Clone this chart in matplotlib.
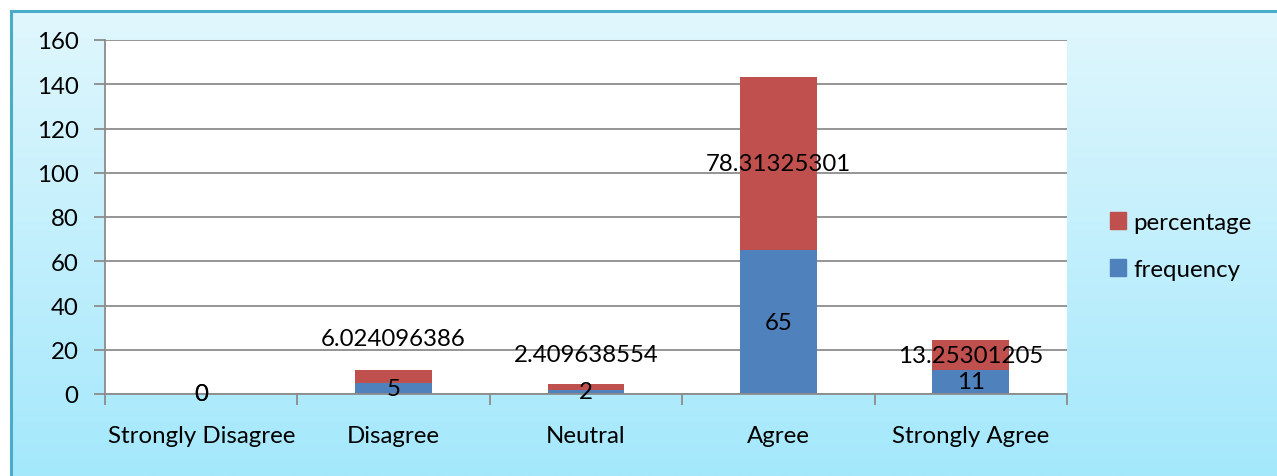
import numpy as np
import matplotlib.pyplot as plt
from matplotlib.patches import Rectangle, Patch

categories = ["Strongly Disagree", "Disagree", "Neutral", "Agree", "Strongly Agree"]
frequency = [0, 5, 2, 65, 11]
percentage = [0, 6.024096386, 2.409638554, 78.31325301, 13.25301205]
freq_labels = ["0", "5", "2", "65", "11"]
pct_labels = ["0", "6.024096386", "2.409638554", "78.31325301", "13.25301205"]

BLUE = "#4f81bd"
RED = "#c0504d"
GRID = "#8c8c8c"
FONT = ["Lato", "DejaVu Sans"]
FS = 17.3

plt.rcParams["font.family"] = FONT

W, H = 1277, 477
fig = plt.figure(figsize=(W / 100, H / 100), dpi=100)

# gradient background for the chart area
bg = fig.add_axes([0, 0, 1, 1], zorder=-10)
top = np.array([0xe2, 0xf7, 0xfd]) / 255
bot = np.array([0xa4, 0xe8, 0xfc]) / 255
t = np.linspace(0, 1, 256)[:, None]
grad = top * (1 - t) + bot * t
bg.imshow(grad[:, None, :], aspect="auto", extent=[0, 1, 0, 1], origin="upper")
bg.set_xlim(0, 1)
bg.set_ylim(0, 1)
bg.axis("off")
# white margin above/left of the frame
bg.add_patch(Rectangle((0, 1 - 11 / H), 1, 11 / H, color="white", zorder=2))
bg.add_patch(Rectangle((0, 0), 10 / W, 1, color="white", zorder=2))
# frame border
bg.plot([11 / W, 11 / W], [0, 1 - 12 / H], color="#4bacc6", lw=2.2, zorder=3)
bg.plot([11 / W, 1], [1 - 12 / H, 1 - 12 / H], color="#4bacc6", lw=2.2, zorder=3)

ax = fig.add_axes([105 / W, 1 - 395 / H, (1067 - 105) / W, (395 - 41) / H])
ax.set_facecolor("white")

x = np.arange(len(categories))
width = 0.40
ax.bar(x, frequency, width, color=BLUE, label="frequency", zorder=3)
ax.bar(x, percentage, width, bottom=frequency, color=RED, label="percentage", zorder=3)

ax.set_xlim(-0.5, len(categories) - 0.5)
ax.set_ylim(0, 160)
ax.set_yticks(np.arange(0, 161, 20))
ax.yaxis.grid(True, color=GRID, lw=1.3, zorder=0)
ax.set_axisbelow(True)

ax.set_xticks(x)
ax.set_xticklabels(categories, fontsize=FS)
ax.tick_params(axis="x", length=0, pad=22)
ax.set_xticks(np.arange(-0.5, len(categories)), minor=True)
ax.tick_params(axis="x", which="minor", length=8, width=1.3, color=GRID, direction="out")
ax.tick_params(axis="y", length=8, width=1.3, color=GRID, labelsize=FS, pad=11)

for side in ["top", "right"]:
    ax.spines[side].set_visible(False)
for side in ["left", "bottom"]:
    ax.spines[side].set_color(GRID)
    ax.spines[side].set_linewidth(1.3)
    ax.spines[side].set_zorder(4)

# value labels: frequency in the middle of the blue part,
# percentage in the middle of the red part (two small ones lifted above)
lift = {1: 27, 2: 23}
for i in range(len(categories)):
    ax.text(x[i], frequency[i] / 2, freq_labels[i], ha="center", va="center",
            fontsize=FS, zorder=5)
    yc = frequency[i] + percentage[i] / 2
    dy = lift.get(i, 0)
    ax.annotate(pct_labels[i], (x[i], yc), xytext=(0, dy), textcoords="offset points",
                ha="center", va="center", fontsize=FS, zorder=5)

handles = [Patch(color=RED), Patch(color=BLUE)]
fig.legend(handles, ["percentage", "frequency"], loc="center left",
           bbox_to_anchor=(1088 / W, 1 - 247 / H), frameon=False, fontsize=FS,
           handlelength=0.7, handleheight=0.7, handletextpad=0.3, labelspacing=1.1)

fig.savefig("out.png", dpi=100)
